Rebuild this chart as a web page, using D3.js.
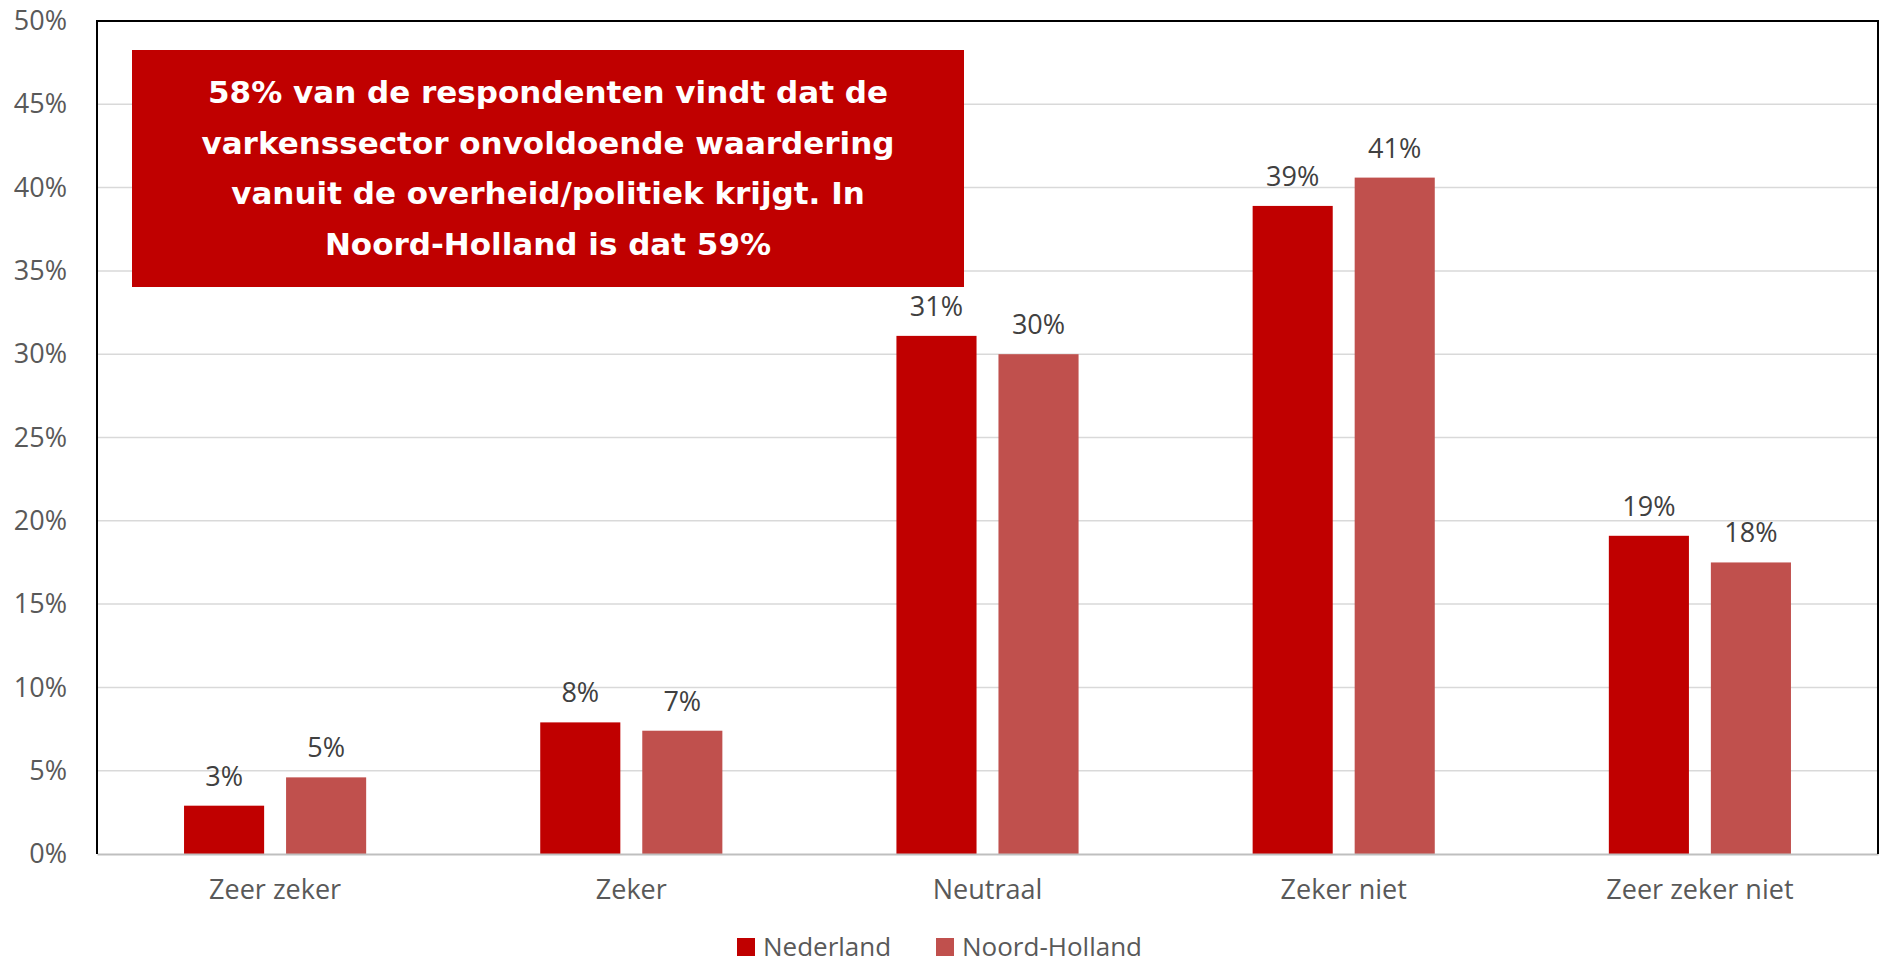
<!DOCTYPE html>
<html>
<head>
<meta charset="utf-8">
<script src="https://cdn.jsdelivr.net/npm/d3@7"></script>
<style>
  body { margin: 0; background: #fff; }
  svg { display: block; }
</style>
</head>
<body>
<script>
// data
const categories = ["Zeer zeker", "Zeker", "Neutraal", "Zeker niet", "Zeer zeker niet"];
const seriesNames = ["Nederland", "Noord-Holland"];
const nederland = [2.9, 7.9, 31.1, 38.9, 19.1];
const noordHolland = [4.6, 7.4, 30.0, 40.6, 17.5];
const yTicks = [0, 5, 10, 15, 20, 25, 30, 35, 40, 45, 50];
const calloutLines = [
  "58% van de respondenten vindt dat de",
  "varkenssector onvoldoende waardering",
  "vanuit de overheid/politiek krijgt. In",
  "Noord-Holland is dat 59%"
];
const colors = ["#C00000", "#C0504D"];

const W = 1879, H = 966;
const plot = { left: 97, right: 1878, top: 21, bottom: 854 };

const svg = d3.select("body").append("svg")
  .attr("width", W)
  .attr("height", H)
  .style("font-family", "'Open Sans', sans-serif");

const x0 = d3.scaleBand().domain(categories).range([plot.left, plot.right]);
const x1 = d3.scaleBand().domain(seriesNames).range([0, x0.bandwidth()])
  .paddingInner(0.215).paddingOuter(0.853);
const y = d3.scaleLinear().domain([0, 50]).range([plot.bottom, plot.top]);

// gridlines
svg.append("g")
  .selectAll("line")
  .data(yTicks.filter(d => d > 0 && d < 50))
  .enter().append("line")
  .attr("x1", plot.left).attr("x2", plot.right)
  .attr("y1", d => y(d)).attr("y2", d => y(d))
  .attr("stroke", "#d9d9d9")
  .attr("stroke-width", 1.5);

// y axis labels
const yAxis = d3.axisLeft(y).tickValues(yTicks).tickFormat(d => d + "%").tickSize(0).tickPadding(30);
const gy = svg.append("g").attr("transform", `translate(${plot.left},0)`).call(yAxis);
gy.select(".domain").remove();
gy.selectAll("text")
  .attr("fill", "#595959")
  .style("font-size", "27px")
  .style("font-family", "'Open Sans', sans-serif");

// bars
const rows = categories.map((c, i) => ({ cat: c, vals: [nederland[i], noordHolland[i]] }));
const groups = svg.append("g").selectAll("g")
  .data(rows)
  .enter().append("g")
  .attr("transform", d => `translate(${x0(d.cat)},0)`);

groups.selectAll("rect")
  .data(d => d.vals.map((v, j) => ({ name: seriesNames[j], v: v, j: j })))
  .enter().append("rect")
  .attr("x", d => x1(d.name))
  .attr("y", d => y(d.v))
  .attr("width", x1.bandwidth())
  .attr("height", d => y(0) - y(d.v))
  .attr("fill", d => colors[d.j]);

groups.selectAll("text")
  .data(d => d.vals.map((v, j) => ({ name: seriesNames[j], v: v, j: j })))
  .enter().append("text")
  .attr("x", d => x1(d.name) + x1.bandwidth() / 2)
  .attr("y", d => y(d.v) - 20)
  .attr("text-anchor", "middle")
  .attr("fill", "#404040")
  .style("font-size", "27px")
  .text(d => Math.round(d.v) + "%");

// x axis
const xAxis = d3.axisBottom(x0).tickSize(0).tickPadding(26);
const gx = svg.append("g").attr("transform", `translate(0,${plot.bottom})`).call(xAxis);
gx.select(".domain").attr("stroke", "#bfbfbf").attr("stroke-width", 2);
gx.selectAll("text")
  .attr("fill", "#595959")
  .style("font-size", "27px")
  .style("font-family", "'Open Sans', sans-serif");

// frame: left, top, right
svg.append("path")
  .attr("d", `M${plot.left},${plot.bottom}V${plot.top}H${plot.right}V${plot.bottom}`)
  .attr("fill", "none")
  .attr("stroke", "#000")
  .attr("stroke-width", 2);

// callout box
const box = { x: 132, y: 50, w: 832, h: 237 };
svg.append("rect")
  .attr("x", box.x).attr("y", box.y)
  .attr("width", box.w).attr("height", box.h)
  .attr("fill", "#C00000");
svg.append("g").selectAll("text")
  .data(calloutLines)
  .enter().append("text")
  .attr("x", box.x + box.w / 2)
  .attr("y", (d, i) => 103 + i * 50.7)
  .attr("text-anchor", "middle")
  .attr("fill", "#fff")
  .style("font-family", "'DejaVu Sans', Verdana, sans-serif")
  .style("font-weight", "bold")
  .style("font-size", "31px")
  .text(d => d);

// legend
const legend = svg.append("g").selectAll("g")
  .data(seriesNames)
  .enter().append("g")
  .attr("transform", (d, i) => `translate(${[737, 936][i]},938)`);
legend.append("rect")
  .attr("width", 18).attr("height", 18)
  .attr("fill", (d, i) => colors[i]);
legend.append("text")
  .attr("x", 26).attr("y", 9)
  .attr("dy", "0.35em")
  .attr("fill", "#595959")
  .style("font-size", "26px")
  .text(d => d);
</script>
</body>
</html>
